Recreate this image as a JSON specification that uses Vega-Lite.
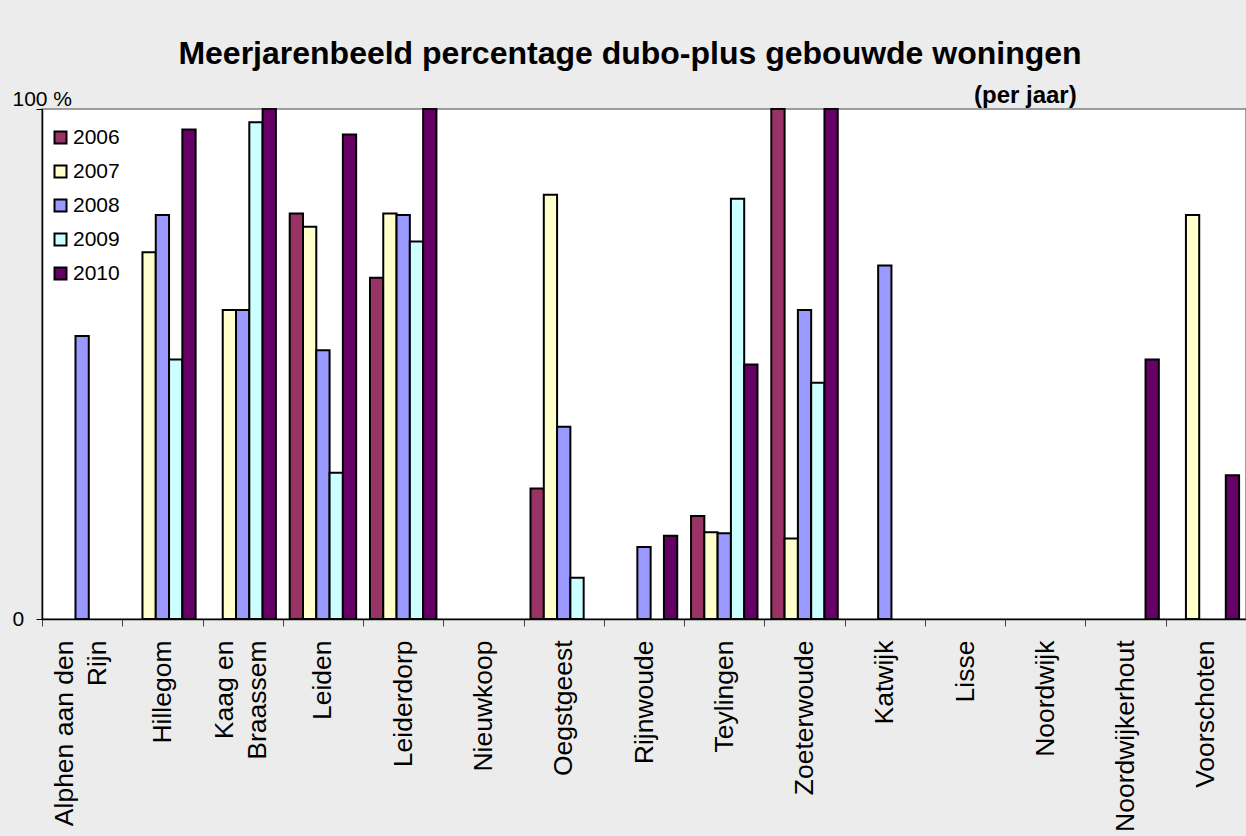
{
  "$schema": "https://vega.github.io/schema/vega-lite/v6.json",
  "autosize": {"type": "none"},
  "width": 1204,
  "height": 510,
  "padding": {"left": 42, "top": 109, "right": 0, "bottom": 217},
  "background": "#ececec",
  "config": {
    "font": "Liberation Sans",
    "view": {"fill": "white", "stroke": "#808080", "strokeWidth": 1.5}
  },
  "title": {
    "text": "Meerjarenbeeld percentage dubo-plus gebouwde woningen",
    "fontSize": 32,
    "fontWeight": "bold",
    "font": "Liberation Sans",
    "color": "black",
    "anchor": "middle",
    "frame": "group",
    "dx": -14,
    "offset": 13
  },
  "data": {
    "values": [
      {"gemeente": "Alphen aan den Rijn", "jaar": "2008", "pct": 55.5},
      {"gemeente": "Hillegom", "jaar": "2007", "pct": 71.9},
      {"gemeente": "Hillegom", "jaar": "2008", "pct": 79.2},
      {"gemeente": "Hillegom", "jaar": "2009", "pct": 50.9},
      {"gemeente": "Hillegom", "jaar": "2010", "pct": 96.0},
      {"gemeente": "Kaag en Braassem", "jaar": "2007", "pct": 60.6},
      {"gemeente": "Kaag en Braassem", "jaar": "2008", "pct": 60.6},
      {"gemeente": "Kaag en Braassem", "jaar": "2009", "pct": 97.4},
      {"gemeente": "Kaag en Braassem", "jaar": "2010", "pct": 100},
      {"gemeente": "Leiden", "jaar": "2006", "pct": 79.5},
      {"gemeente": "Leiden", "jaar": "2007", "pct": 76.9},
      {"gemeente": "Leiden", "jaar": "2008", "pct": 52.7},
      {"gemeente": "Leiden", "jaar": "2009", "pct": 28.7},
      {"gemeente": "Leiden", "jaar": "2010", "pct": 95.0},
      {"gemeente": "Leiderdorp", "jaar": "2006", "pct": 66.9},
      {"gemeente": "Leiderdorp", "jaar": "2007", "pct": 79.5},
      {"gemeente": "Leiderdorp", "jaar": "2008", "pct": 79.2},
      {"gemeente": "Leiderdorp", "jaar": "2009", "pct": 74.0},
      {"gemeente": "Leiderdorp", "jaar": "2010", "pct": 100},
      {"gemeente": "Oegstgeest", "jaar": "2006", "pct": 25.6},
      {"gemeente": "Oegstgeest", "jaar": "2007", "pct": 83.2},
      {"gemeente": "Oegstgeest", "jaar": "2008", "pct": 37.7},
      {"gemeente": "Oegstgeest", "jaar": "2009", "pct": 8.1},
      {"gemeente": "Rijnwoude", "jaar": "2008", "pct": 14.1},
      {"gemeente": "Rijnwoude", "jaar": "2010", "pct": 16.3},
      {"gemeente": "Teylingen", "jaar": "2006", "pct": 20.2},
      {"gemeente": "Teylingen", "jaar": "2007", "pct": 17.0},
      {"gemeente": "Teylingen", "jaar": "2008", "pct": 16.8},
      {"gemeente": "Teylingen", "jaar": "2009", "pct": 82.4},
      {"gemeente": "Teylingen", "jaar": "2010", "pct": 49.9},
      {"gemeente": "Zoeterwoude", "jaar": "2006", "pct": 100},
      {"gemeente": "Zoeterwoude", "jaar": "2007", "pct": 15.8},
      {"gemeente": "Zoeterwoude", "jaar": "2008", "pct": 60.6},
      {"gemeente": "Zoeterwoude", "jaar": "2009", "pct": 46.3},
      {"gemeente": "Zoeterwoude", "jaar": "2010", "pct": 100},
      {"gemeente": "Katwijk", "jaar": "2008", "pct": 69.3},
      {"gemeente": "Noordwijkerhout", "jaar": "2010", "pct": 50.9},
      {"gemeente": "Voorschoten", "jaar": "2007", "pct": 79.2},
      {"gemeente": "Voorschoten", "jaar": "2010", "pct": 28.2}
    ]
  },
  "layer": [
    {
      "mark": {"type": "bar", "stroke": "black", "strokeWidth": 2},
      "encoding": {
        "x": {
          "field": "gemeente",
          "type": "nominal",
          "title": null,
          "scale": {
            "domain": ["Alphen aan den Rijn", "Hillegom", "Kaag en Braassem", "Leiden", "Leiderdorp", "Nieuwkoop", "Oegstgeest", "Rijnwoude", "Teylingen", "Zoeterwoude", "Katwijk", "Lisse", "Noordwijk", "Noordwijkerhout", "Voorschoten"],
            "paddingInner": 0,
            "paddingOuter": 0
          },
          "axis": {
            "tickBand": "extent",
            "tickSize": 7,
            "tickColor": "#444444",
            "domainColor": "black",
            "domainWidth": 1.5,
            "labelAngle": -90,
            "labelAlign": "right",
            "labelBaseline": "middle",
            "labelPadding": 14,
            "labelFontSize": 26.5,
            "labelColor": "black",
            "labelLineHeight": 33,
            "labelLimit": 0,
            "labelOffset": {"condition": {"test": "datum.value == 'Alphen aan den Rijn' || datum.value == 'Kaag en Braassem'", "value": -18}, "value": 0},
            "labelExpr": "datum.value == 'Alphen aan den Rijn' ? ['Alphen aan den', 'Rijn'] : datum.value == 'Kaag en Braassem' ? ['Kaag en', 'Braassem'] : datum.label"
          }
        },
        "xOffset": {
          "field": "jaar",
          "type": "nominal",
          "scale": {"domain": ["2006", "2007", "2008", "2009", "2010"], "paddingInner": 0, "paddingOuter": 0.52}
        },
        "y": {
          "field": "pct",
          "type": "quantitative",
          "title": null,
          "scale": {"domain": [0, 100], "nice": false},
          "axis": {
            "values": [0, 100],
            "grid": false,
            "tickSize": 6,
            "tickColor": "black",
            "domainColor": "black",
            "domainWidth": 1.5,
            "labelAlign": "left",
            "labelPadding": 24,
            "labelFontSize": 21,
            "labelColor": "black",
            "labelBaseline": {"condition": {"test": "datum.value == 100", "value": "bottom"}, "value": "middle"},
            "labelExpr": "datum.value == 100 ? '100 %' : '0'"
          }
        },
        "color": {
          "field": "jaar",
          "type": "nominal",
          "scale": {"domain": ["2006", "2007", "2008", "2009", "2010"], "range": ["#993366", "#FFFFCC", "#9999FF", "#CCFFFF", "#660066"]},
          "legend": {
            "title": null,
            "orient": "none",
            "legendX": 8,
            "legendY": 18,
            "symbolType": "square",
            "symbolSize": 144,
            "symbolStrokeColor": "black",
            "symbolStrokeWidth": 2,
            "symbolOpacity": 1,
            "labelFontSize": 21,
            "labelColor": "black",
            "labelOffset": 2,
            "rowPadding": 12,
            "padding": 0
          }
        }
      }
    },
    {
      "data": {"values": [{"label": "(per jaar)"}]},
      "mark": {"type": "text", "fontSize": 24, "fontWeight": "bold", "font": "Liberation Sans", "color": "black", "align": "center", "baseline": "alphabetic", "dx": -20, "dy": -6},
      "encoding": {
        "x": {"datum": "Noordwijk"},
        "y": {"datum": 100},
        "text": {"field": "label", "type": "nominal"}
      }
    }
  ]
}
